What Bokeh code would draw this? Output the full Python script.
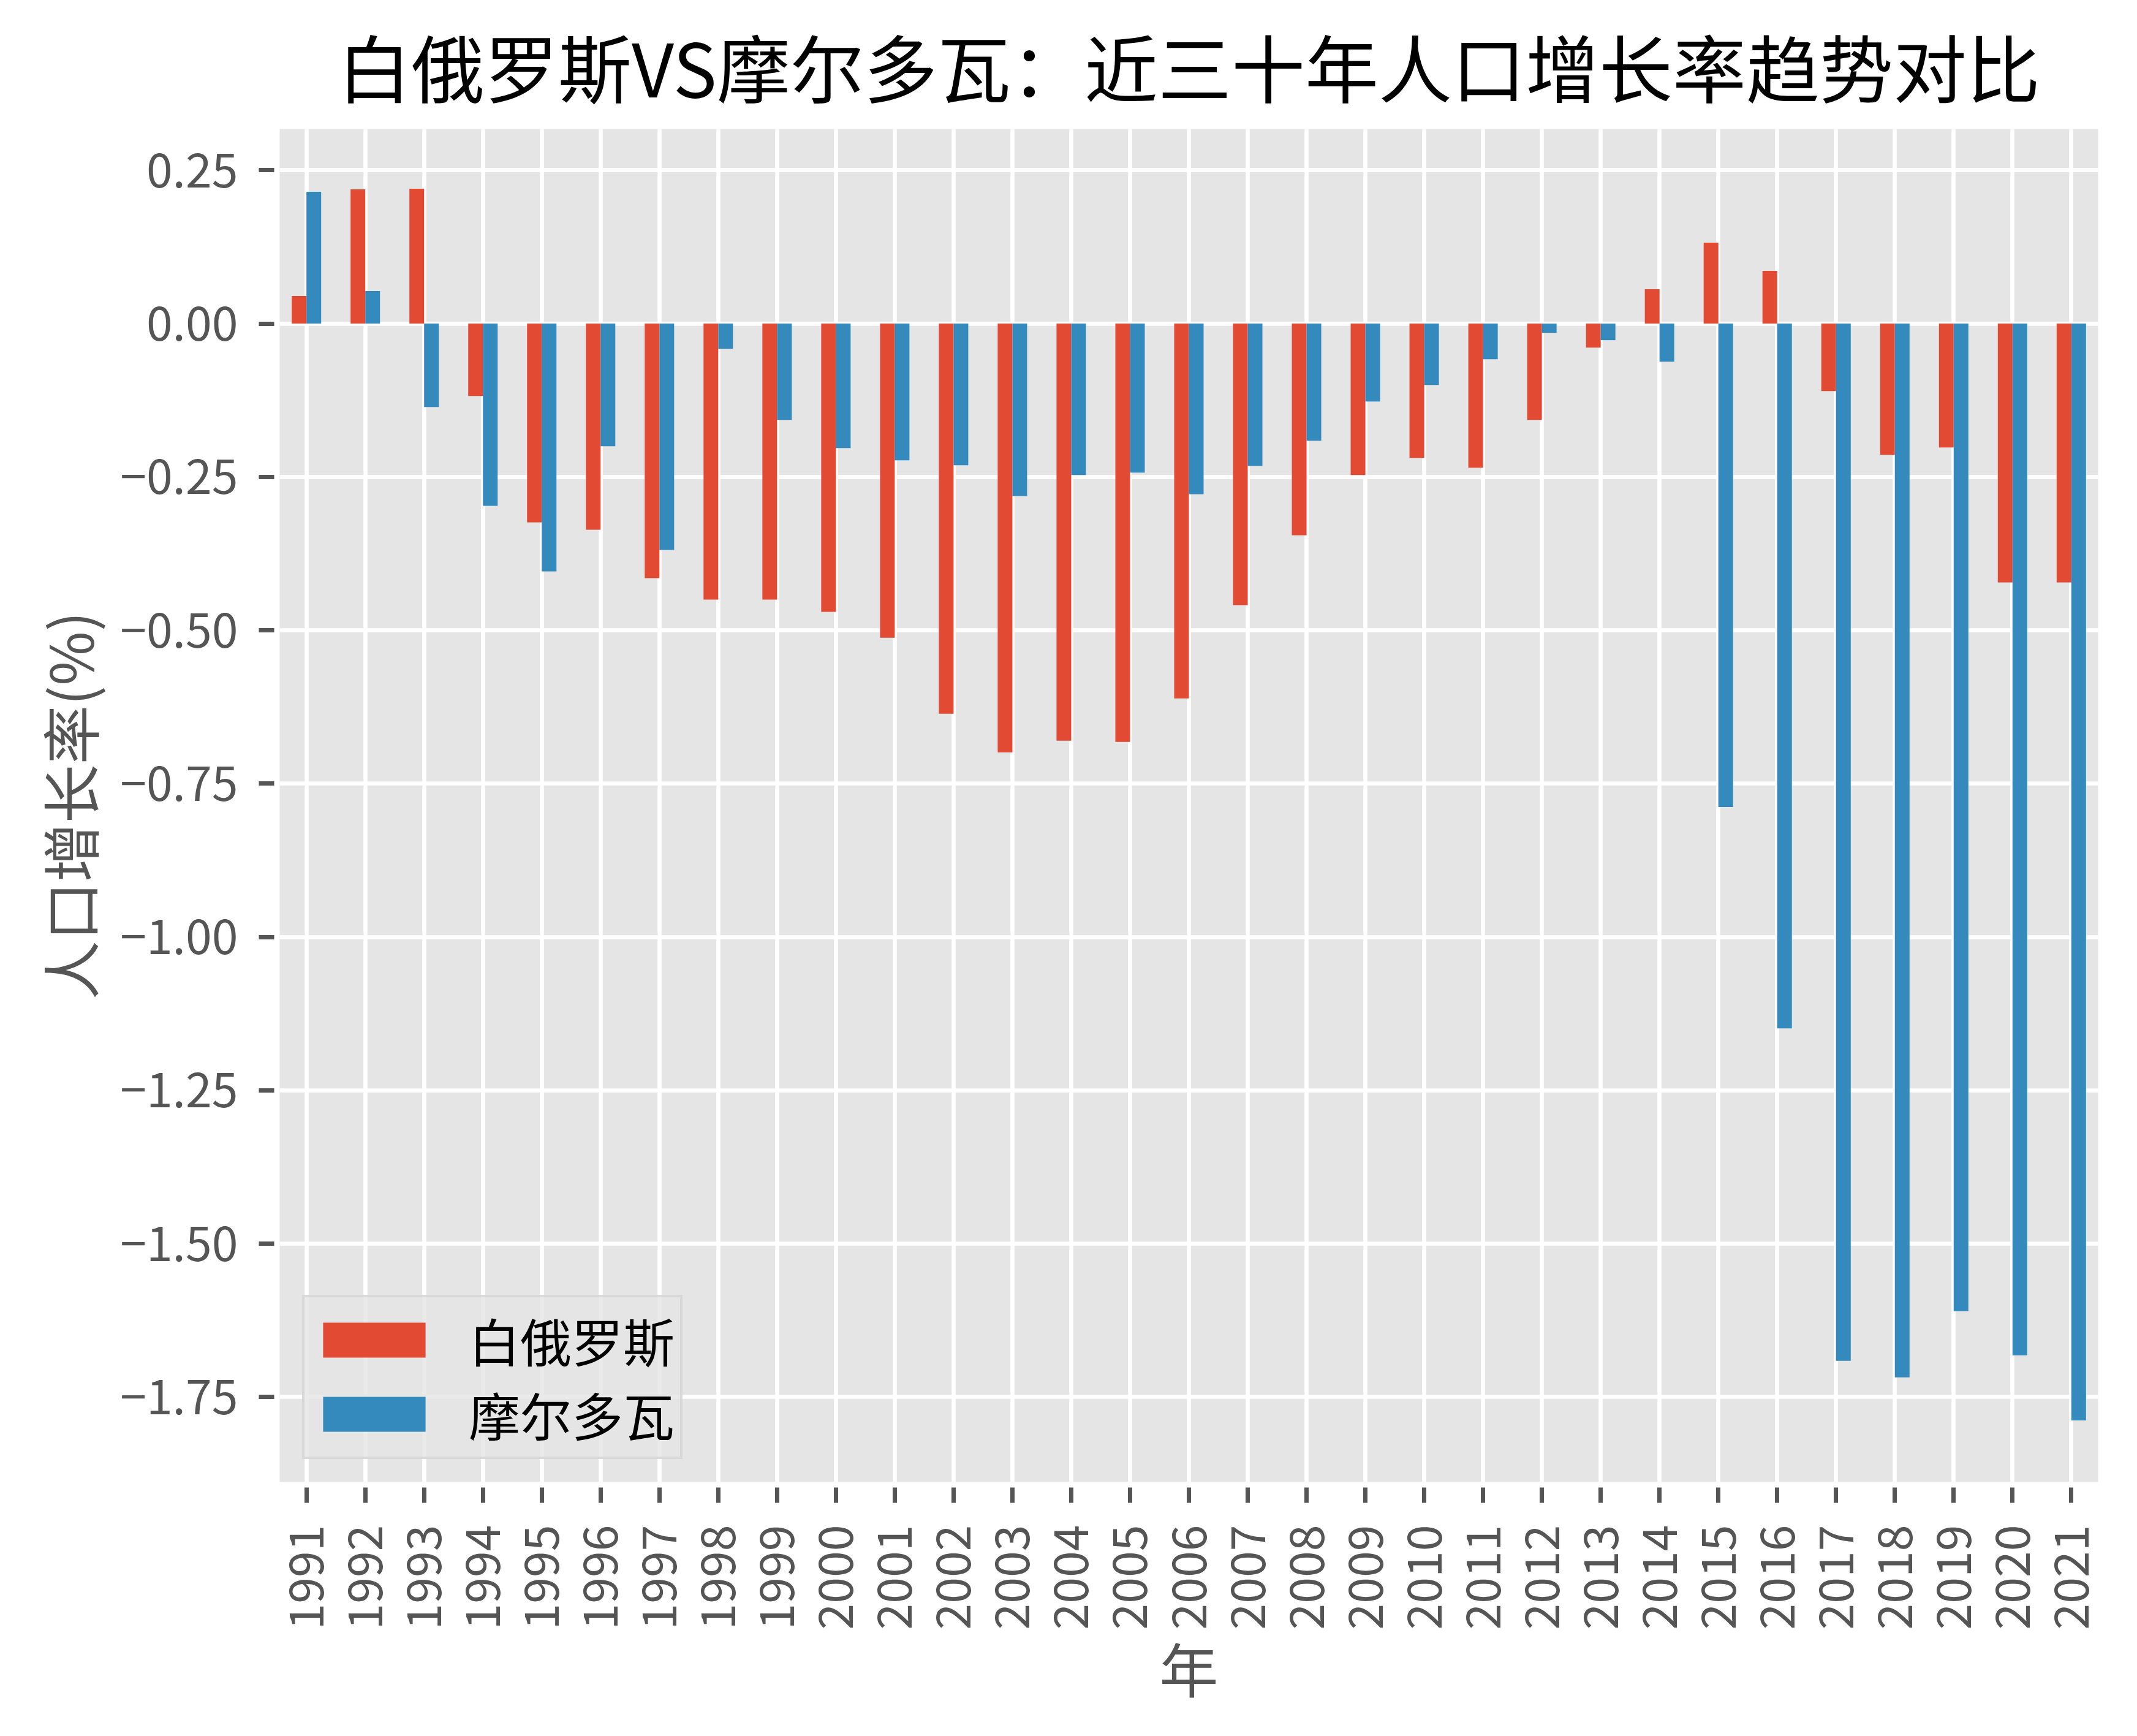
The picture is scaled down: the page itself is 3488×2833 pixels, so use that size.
import math
from bokeh.plotting import figure
from bokeh.models import Range1d, FixedTicker, CustomJSTickFormatter, ColumnDataSource
from bokeh.transform import dodge
from bokeh.embed import file_html
from bokeh.resources import INLINE

# ---- data ----
years = ["1991", "1992", "1993", "1994", "1995", "1996", "1997", "1998", "1999", "2000",
         "2001", "2002", "2003", "2004", "2005", "2006", "2007", "2008", "2009", "2010",
         "2011", "2012", "2013", "2014", "2015", "2016", "2017", "2018", "2019", "2020", "2021"]
belarus = [0.045, 0.219, 0.220, -0.118, -0.324, -0.336, -0.415, -0.450, -0.450, -0.470,
           -0.512, -0.636, -0.699, -0.680, -0.682, -0.611, -0.459, -0.345, -0.247, -0.219,
           -0.235, -0.157, -0.039, 0.056, 0.132, 0.086, -0.110, -0.214, -0.202, -0.422, -0.422]
moldova = [0.215, 0.053, -0.136, -0.297, -0.404, -0.200, -0.369, -0.041, -0.157, -0.203,
           -0.223, -0.231, -0.281, -0.247, -0.243, -0.278, -0.232, -0.191, -0.127, -0.100,
           -0.058, -0.015, -0.027, -0.062, -0.788, -1.149, -1.691, -1.718, -1.610, -1.682, -1.788]
y_ticks = [0.25, 0.0, -0.25, -0.5, -0.75, -1.0, -1.25, -1.5, -1.75]
series_names = ["白俄罗斯", "摩尔多瓦"]
title_text = "白俄罗斯VS摩尔多瓦：近三十年人口增长率趋势对比"
x_label = "年"
y_label = "人口增长率(%)"

FONT = "Noto Sans CJK SC"
RED = "#E24A33"
BLUE = "#348ABD"
GRAY = "#555555"

idx = list(range(len(years)))
source = ColumnDataSource(dict(x=idx, year=years, belarus=belarus, moldova=moldova))

p = figure(width=3472, height=2817, output_backend="svg", toolbar_location=None,
           x_range=Range1d(-0.455, len(years) - 1 + 0.455),
           y_range=Range1d(-1.8885, 0.3173),
           min_border_left=456, min_border_right=48, min_border_top=210, min_border_bottom=399)

p.background_fill_color = "#E5E5E5"
p.border_fill_color = "white"
p.outline_line_color = None

p.vbar(x=dodge("x", -0.125, range=p.x_range), top="belarus", bottom=0, width=0.25,
       source=source, fill_color=RED, line_color=None, legend_label=series_names[0])
p.vbar(x=dodge("x", 0.125, range=p.x_range), top="moldova", bottom=0, width=0.25,
       source=source, fill_color=BLUE, line_color=None, legend_label=series_names[1])

# title
p.title.text = title_text
p.title.text_font = FONT
p.title.text_font_size = "120px"
p.title.text_font_style = "normal"
p.title.text_color = "black"
p.title.align = "center"
p.title.standoff = 34

# axes
p.xaxis.ticker = FixedTicker(ticks=idx)
p.xaxis.formatter = CustomJSTickFormatter(args=dict(labels=years),
                                          code="return labels[Math.round(tick)];")
p.yaxis.ticker = FixedTicker(ticks=y_ticks)
p.yaxis.formatter = CustomJSTickFormatter(code="return tick.toFixed(2).replace('-', '\u2212');")
p.xaxis.major_label_orientation = math.pi / 2

for ax in (p.xaxis[0], p.yaxis[0]):
    ax.axis_line_color = None
    ax.major_tick_line_color = GRAY
    ax.major_tick_line_width = 7
    ax.major_tick_in = -9
    ax.major_tick_out = 34
    ax.minor_tick_line_color = None
    ax.major_label_text_font = FONT
    ax.major_label_text_font_size = "77px"
    ax.major_label_text_color = GRAY
    ax.axis_label_text_font = FONT
    ax.axis_label_text_font_size = "96px"
    ax.axis_label_text_font_style = "normal"
    ax.axis_label_text_color = GRAY

p.xaxis.major_label_standoff = 36
p.yaxis.major_label_standoff = 34
p.xaxis.axis_label = x_label
p.yaxis.axis_label = y_label
p.xaxis.axis_label_standoff = -11
p.yaxis.axis_label_standoff = 12

# grid
p.xgrid.ticker = FixedTicker(ticks=idx)
p.ygrid.ticker = FixedTicker(ticks=y_ticks)
for g in (p.xgrid[0], p.ygrid[0]):
    g.grid_line_color = "white"
    g.grid_line_width = 6.5

# legend
lg = p.legend[0]
lg.location = "bottom_left"
lg.margin = 37
lg.padding = 9
lg.spacing = -5
lg.glyph_width = 209
lg.glyph_height = 71
lg.label_height = 74
lg.label_standoff = 50
lg.label_text_font = FONT
lg.label_text_font_size = "84px"
lg.label_text_color = "black"
lg.background_fill_color = "#E5E5E5"
lg.background_fill_alpha = 0.8
lg.border_line_color = "#CCCCCC"
lg.border_line_width = 4

open("out.html", "w").write(file_html(p, INLINE))
